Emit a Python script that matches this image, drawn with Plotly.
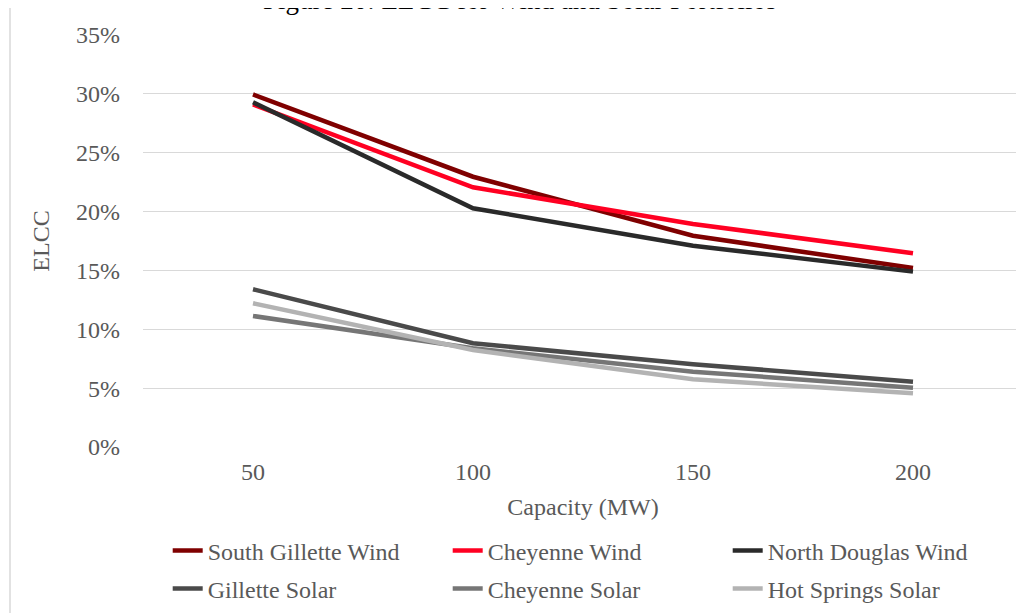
import plotly.graph_objects as go

capacity = ["50", "100", "150", "200"]
south_gillette_wind = [0.2995, 0.2296, 0.1795, 0.152]
cheyenne_wind = [0.291, 0.2206, 0.1895, 0.1646]
north_douglas_wind = [0.2929, 0.2028, 0.171, 0.149]
gillette_solar = [0.134, 0.0881, 0.0703, 0.0555]
cheyenne_solar = [0.1113, 0.0839, 0.064, 0.0504]
hot_springs_solar = [0.1221, 0.0824, 0.0575, 0.0456]

y_ticks = [0, 0.05, 0.10, 0.15, 0.20, 0.25, 0.30, 0.35]
y_tick_labels = ["0%", "5%", "10%", "15%", "20%", "25%", "30%", "35%"]

series = [
    ("South Gillette Wind", south_gillette_wind, "#7f0000", "legend"),
    ("Cheyenne Wind", cheyenne_wind, "#ff0022", "legend"),
    ("North Douglas Wind", north_douglas_wind, "#2a2a2a", "legend"),
    ("Gillette Solar", gillette_solar, "#4a4a4a", "legend2"),
    ("Cheyenne Solar", cheyenne_solar, "#767676", "legend2"),
    ("Hot Springs Solar", hot_springs_solar, "#b3b3b3", "legend2"),
]

FONT = "Liberation Serif"
TXT = "#595959"
FS = 24
W, H = 1016, 605

fig = go.Figure()
for name, vals, color, lg in series:
    fig.add_trace(go.Scatter(
        x=capacity, y=vals, name=name, mode="lines",
        line=dict(color=color, width=4.5),
        legend=lg,
    ))

legend_common = dict(
    orientation="h",
    xref="container", yref="container",
    xanchor="left", yanchor="middle",
    font=dict(family=FONT, size=FS, color=TXT),
    entrywidth=235, entrywidthmode="pixels",
    bgcolor="rgba(0,0,0,0)",
    itemwidth=30,
    traceorder="normal",
)

fig.update_layout(
    width=W, height=H,
    margin=dict(l=135, r=1, t=27, b=166, autoexpand=False),
    paper_bgcolor="white", plot_bgcolor="white",
    font=dict(family=FONT, color=TXT, size=FS),
    showlegend=True,
    legend=dict(legend_common, x=159.7 / W, y=1 - 543 / H),
    legend2=dict(legend_common, x=159.7 / W, y=1 - 581 / H),
    xaxis=dict(
        type="category", range=[-0.5, 3.5], automargin=False,
        showgrid=False, showline=False, zeroline=False,
        ticks="", tickfont=dict(family=FONT, size=FS, color=TXT),
        ticklabelstandoff=8,
        title=dict(text="Capacity (MW)", font=dict(family=FONT, size=FS, color=TXT), standoff=14),
    ),
    yaxis=dict(
        range=[0, 0.35], tickvals=y_ticks, ticktext=y_tick_labels, automargin=False,
        showgrid=True, gridcolor="#d9d9d9", gridwidth=1.3,
        zeroline=False, showline=False, ticks="",
        tickfont=dict(family=FONT, size=FS, color=TXT),
        ticklabelstandoff=22,
        title=dict(text="ELCC", font=dict(family=FONT, size=FS, color=TXT), standoff=19),
    ),
    annotations=[dict(
        text="Figure 20: ELCC for Wind and Solar Portfolios",
        xref="paper", yref="paper", x=0.428, y=1.0, yshift=18,
        xanchor="center", yanchor="bottom", showarrow=False,
        font=dict(family=FONT, size=27, color="#000000"),
    )],
)

# chart-area border lines (left and top), as in the original Excel frame
fig.add_shape(type="line", xref="paper", yref="paper",
              xsizemode="pixel", xanchor=0, x0=-133, x1=-133, y0=-1, y1=2,
              line=dict(color="#d9d9d9", width=1.5))
fig.add_shape(type="line", xref="paper", yref="paper",
              ysizemode="pixel", yanchor=1, y0=28, y1=28, x0=-1, x1=2,
              line=dict(color="#d9d9d9", width=1.5))

fig.write_html("out.html")
